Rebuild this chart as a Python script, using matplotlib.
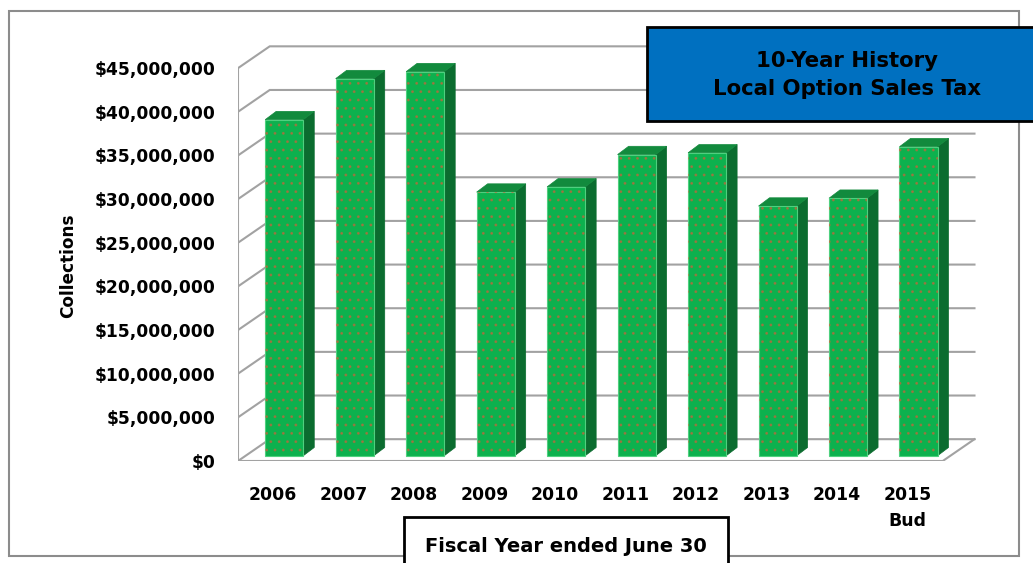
import numpy as np
import matplotlib
matplotlib.use("Agg")
import matplotlib.pyplot as plt
from matplotlib.patches import Polygon, Rectangle

W, H = 1033, 563

years = ['2006', '2007', '2008', '2009', '2010', '2011', '2012', '2013', '2014', '2015\nBud']
collections = [38.5e6, 43.2e6, 44.0e6, 30.2e6, 30.8e6, 34.5e6, 34.7e6, 28.6e6, 29.5e6, 35.4e6]
y_ticks = np.arange(0, 45e6 + 1, 5e6)

# fake 3-D: offset of the back wall and of the columns, in data units
DX, DY = 0.45, 2.5e6
FX, FY = 0.156, 0.6e6
BDX, BDY = 0.156, 0.95e6
BAR_W = 0.54

FRONT = '#0db14e'
TOP = '#128a3d'
SIDE = '#0b6c2f'
GRID = '#a2a2a2'

plt.rcParams['font.family'] = ['DejaVu Sans']
plt.rcParams['hatch.linewidth'] = 0.9


def px(x, y):
    return x / W, 1 - y / H


fig = plt.figure(figsize=(W / 100, H / 100), dpi=100)
fig.patch.set_facecolor('white')

# outer chart border
fig.add_artist(Rectangle(px(9, 556), 1010 / W, 545 / H, transform=fig.transFigure,
                         facecolor='none', edgecolor='#8c8c8c', lw=1.5))

left, bottom = px(238, 461)
ax = fig.add_axes([left, bottom, 740 / W, 48 * 8.73 / H])
ax.set_xlim(-0.5, 10.0)
ax.set_ylim(0, 48e6)
for s in ax.spines.values():
    s.set_visible(False)
ax.patch.set_alpha(0)

n = len(years)
x_l, x_r = -0.5, n - 0.5

# back wall gridlines and side wall
for v in y_ticks:
    ax.plot([x_l, x_l + DX, x_r + DX], [v, v + DY, v + DY], color=GRID, lw=1.5, zorder=1,
            solid_joinstyle='miter')
ax.plot([x_l, x_l], [0, y_ticks[-1]], color=GRID, lw=1.5, zorder=1)
# floor outline
ax.plot([x_l, x_r, x_r + DX], [0, 0, DY], color=GRID, lw=1.5, zorder=1)

# columns
xs = np.arange(n)
ax.bar(xs + FX, collections, width=BAR_W, bottom=FY, color=FRONT,
       edgecolor='#4fd07f', lw=0.8, zorder=3)
ax.bar(xs + FX, collections, width=BAR_W, bottom=FY, facecolor='none',
       edgecolor='#d0603a', hatch='..', lw=0, alpha=0.55, zorder=4)
for i, v in zip(xs, collections):
    x0 = i + FX - BAR_W / 2
    x1 = x0 + BAR_W
    y0, y1 = FY, FY + v
    ax.add_patch(Polygon([(x1, y0), (x1 + BDX, y0 + BDY), (x1 + BDX, y1 + BDY), (x1, y1)],
                         closed=True, facecolor=SIDE, edgecolor=SIDE, lw=0.5, zorder=2))
    ax.add_patch(Polygon([(x0, y1), (x0 + BDX, y1 + BDY), (x1 + BDX, y1 + BDY), (x1, y1)],
                         closed=True, facecolor=TOP, edgecolor=TOP, lw=0.5, zorder=2))

ax.set_yticks(y_ticks, [f'${v:,.0f}' for v in y_ticks], fontsize=12.3, fontweight='bold')
ax.set_xticks(xs, years, fontsize=12.4, fontweight='bold', linespacing=1.55)
ax.tick_params(axis='y', length=0, pad=16.5)
ax.tick_params(axis='x', length=0, pad=18)

fig.text(*px(68, 266), 'Collections', rotation=90, ha='center', va='center',
         fontsize=12.2, fontweight='bold')

# title box
fig.add_artist(Rectangle(px(647, 121), 410 / W, 94 / H, transform=fig.transFigure,
                         facecolor='#0070c0', edgecolor='black', lw=2, clip_on=False))
fig.text(*px(847, 75), '10-Year History\nLocal Option Sales Tax', ha='center', va='center',
         fontsize=15.3, fontweight='bold', linespacing=1.45)

# x-axis title box
fig.add_artist(Rectangle(px(404, 580), 324 / W, 63 / H, transform=fig.transFigure,
                         facecolor='white', edgecolor='black', lw=2, clip_on=False))
fig.text(*px(566, 546), 'Fiscal Year ended June 30', ha='center', va='center',
         fontsize=14, fontweight='bold')

fig.savefig('out.png', dpi=100)
